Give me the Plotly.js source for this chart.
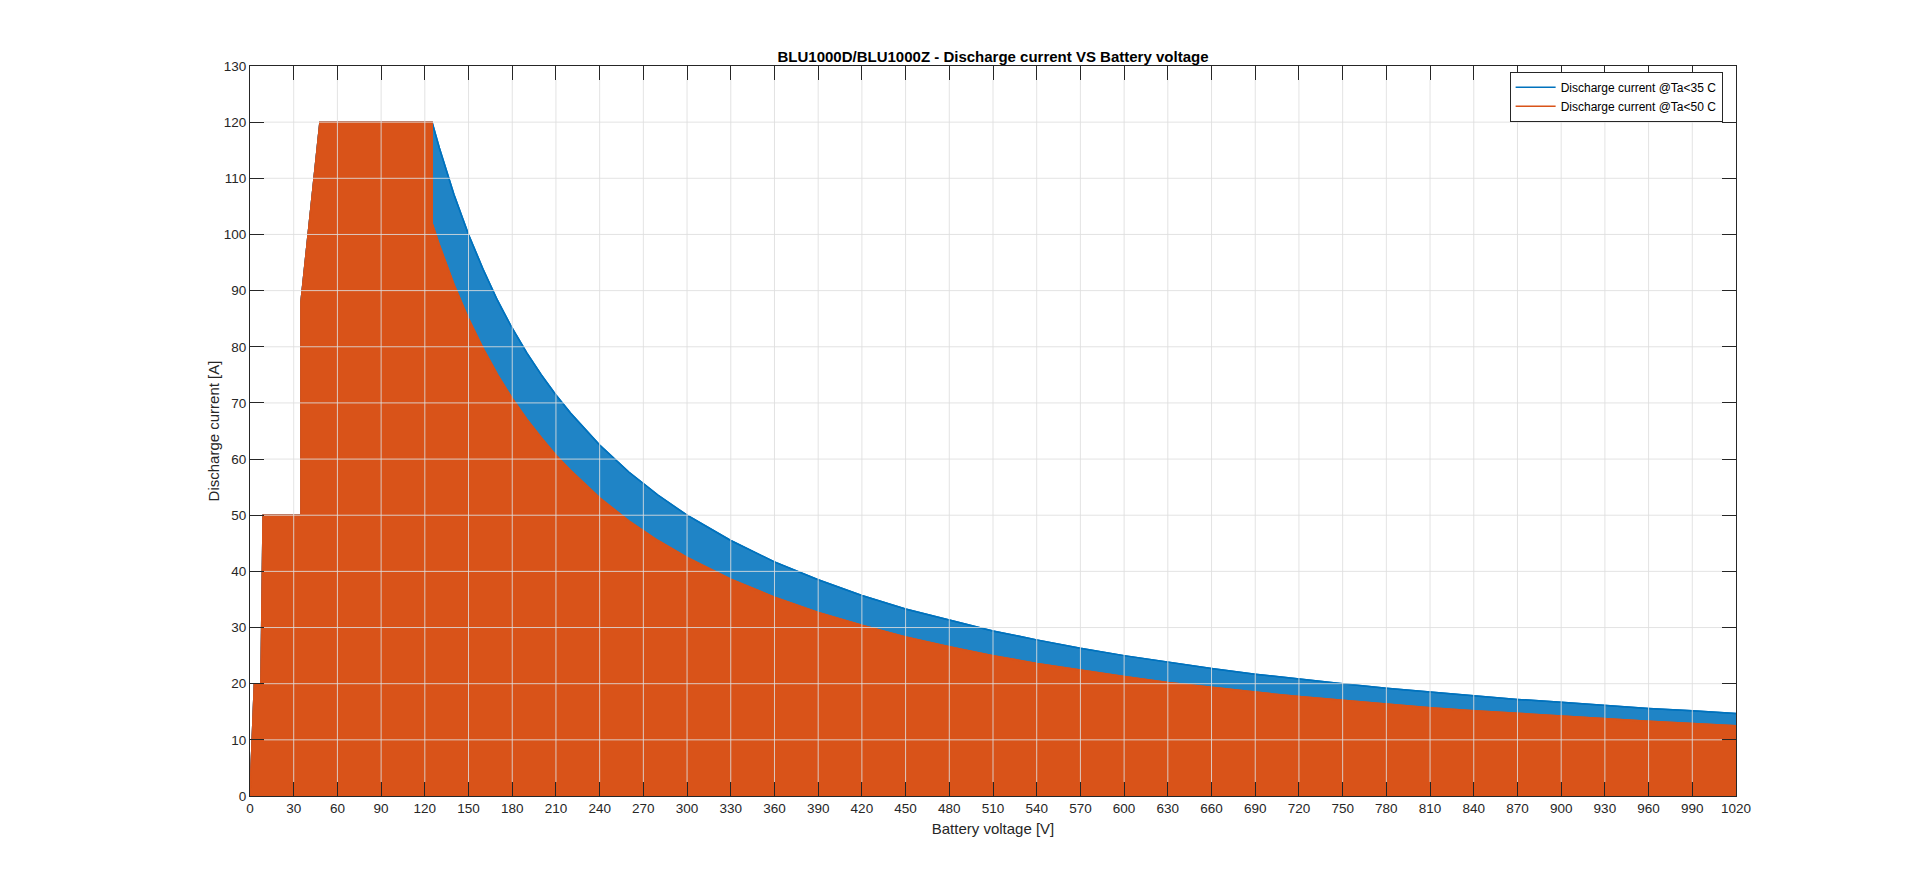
<!DOCTYPE html>
<html>
<head>
<meta charset="utf-8">
<script src="https://cdn.plot.ly/plotly-3.0.1.min.js"></script>
<style>
  html, body { margin: 0; padding: 0; background: #fff; }
  #chart { width: 1920px; height: 894px; }
</style>
</head>
<body>
<div id="chart"></div>
<script>
// battery voltage [V] and discharge current [A]
var voltage35 = [0, 3, 7.5, 9, 35, 35, 48, 125, 130, 140, 150, 160, 170, 180, 190, 200, 210, 220,
    240, 260, 280, 300, 330, 360, 390, 420, 450, 480, 510, 540, 570, 600, 630, 660, 690, 720,
    750, 780, 810, 840, 870, 900, 930, 960, 990, 1020];
var current35 = [0, 20, 20, 50, 50, 88, 120, 120, 115.4, 107.1, 100, 93.8, 88.2, 83.3, 78.9, 75, 71.4, 68.2,
    62.5, 57.7, 53.6, 50, 45.5, 41.7, 38.5, 35.7, 33.3, 31.3, 29.4, 27.8, 26.3, 25, 23.8, 22.7, 21.7, 20.8,
    20, 19.2, 18.5, 17.9, 17.2, 16.7, 16.1, 15.6, 15.2, 14.7];

var voltage50 = [0, 3, 7.5, 9, 35, 35, 48, 125, 125, 130, 140, 150, 160, 170, 180, 190, 200, 210, 220,
    240, 260, 280, 300, 330, 360, 390, 420, 450, 480, 510, 540, 570, 600, 630, 660, 690, 720,
    750, 780, 810, 840, 870, 900, 930, 960, 990, 1020];
var current50 = [0, 20, 20, 50, 50, 88, 120, 120, 102, 98.1, 91.1, 85, 79.7, 75, 70.8, 67.1, 63.8, 60.7, 58,
    53.1, 49, 45.5, 42.5, 38.6, 35.4, 32.7, 30.4, 28.3, 26.6, 25, 23.6, 22.4, 21.3, 20.2, 19.3, 18.5, 17.7,
    17, 16.3, 15.7, 15.2, 14.7, 14.2, 13.7, 13.3, 12.9, 12.5];

var seriesNames = ["Discharge current @Ta<35 C", "Discharge current @Ta<50 C"];

var xTicks = [];
for (var t = 0; t <= 1020; t += 30) xTicks.push(t);
var yTicks = [];
for (var u = 0; u <= 130; u += 10) yTicks.push(u);

var blue = "#0072BD", blueFill = "#1F84C6";
var orange = "#D95319", orangeFill = "#D95319";

var data = [
    { x: voltage35, y: current35, type: "scatter", mode: "lines", fill: "tozeroy",
      fillcolor: blueFill, line: { color: blue, width: 1.5 }, showlegend: false, hoverinfo: "skip" },
    { x: voltage35, y: current35, type: "scatter", mode: "lines", name: seriesNames[0],
      line: { color: blue, width: 1.5 } },
    { x: voltage50, y: current50, type: "scatter", mode: "lines", fill: "tozeroy",
      fillcolor: orangeFill, line: { color: orange, width: 1.5 }, showlegend: false, hoverinfo: "skip" },
    { x: voltage50, y: current50, type: "scatter", mode: "lines", name: seriesNames[1],
      line: { color: orange, width: 1.5 } }
];

// grid drawn over the filled areas (MATLAB style); kept clear of the 14px tick marks
var gridColor = "rgba(222,222,222,0.85)";
var tickPadY = 130 * 14 / 730, tickPadX = 1020 * 14 / 1486;
var gridShapes = [];
xTicks.forEach(function (v) {
    if (v === 0 || v === 1020) return;
    gridShapes.push({ type: "line", layer: "above", xref: "x", yref: "y",
        x0: v, x1: v, y0: tickPadY, y1: 130 - tickPadY, line: { color: gridColor, width: 1 } });
});
yTicks.forEach(function (v) {
    if (v === 0 || v === 130) return;
    gridShapes.push({ type: "line", layer: "above", xref: "x", yref: "y",
        x0: tickPadX, x1: 1020 - tickPadX, y0: v, y1: v, line: { color: gridColor, width: 1 } });
});

var fontFamily = "Liberation Sans, Arial, sans-serif";
var axisFont = { family: fontFamily, size: 13.5, color: "#262626" };

var layout = {
    width: 1920, height: 894,
    paper_bgcolor: "#fff", plot_bgcolor: "#fff",
    margin: { l: 250, r: 184, t: 66, b: 98 },
    font: axisFont,
    title: {
        text: "<b>BLU1000D/BLU1000Z - Discharge current VS Battery voltage</b>",
        font: { family: fontFamily, size: 15, color: "#000" },
        x: 0.5, xref: "paper", y: 1, yref: "paper", yanchor: "bottom", pad: { b: 4 }
    },
    xaxis: {
        range: [0, 1020], tickvals: xTicks, ticks: "inside", ticklen: 14, tickcolor: "#262626",
        showline: true, linecolor: "#262626", linewidth: 1, mirror: "ticks",
        showgrid: false, zeroline: false,
        layer: "above traces", tickfont: axisFont,
        title: { text: "Battery voltage [V]", font: { family: fontFamily, size: 15, color: "#262626" }, standoff: 8 }
    },
    yaxis: {
        range: [0, 130], tickvals: yTicks, ticks: "inside", ticklen: 14, tickcolor: "#262626",
        showline: true, linecolor: "#262626", linewidth: 1, mirror: "ticks",
        showgrid: false, zeroline: false,
        layer: "above traces", tickfont: axisFont,
        title: { text: "Discharge current [A]", font: { family: fontFamily, size: 15, color: "#262626" }, standoff: 0 }
    },
    shapes: gridShapes,
    legend: {
        x: 0.991, y: 0.992, xanchor: "right", yanchor: "top",
        bgcolor: "#fff", bordercolor: "#262626", borderwidth: 1,
        font: { family: fontFamily, size: 12, color: "#000" },
        itemwidth: 40, tracegroupgap: 0
    },
    showlegend: true
};

Plotly.newPlot("chart", data, layout, { displayModeBar: false, staticPlot: true });
</script>
</body>
</html>
